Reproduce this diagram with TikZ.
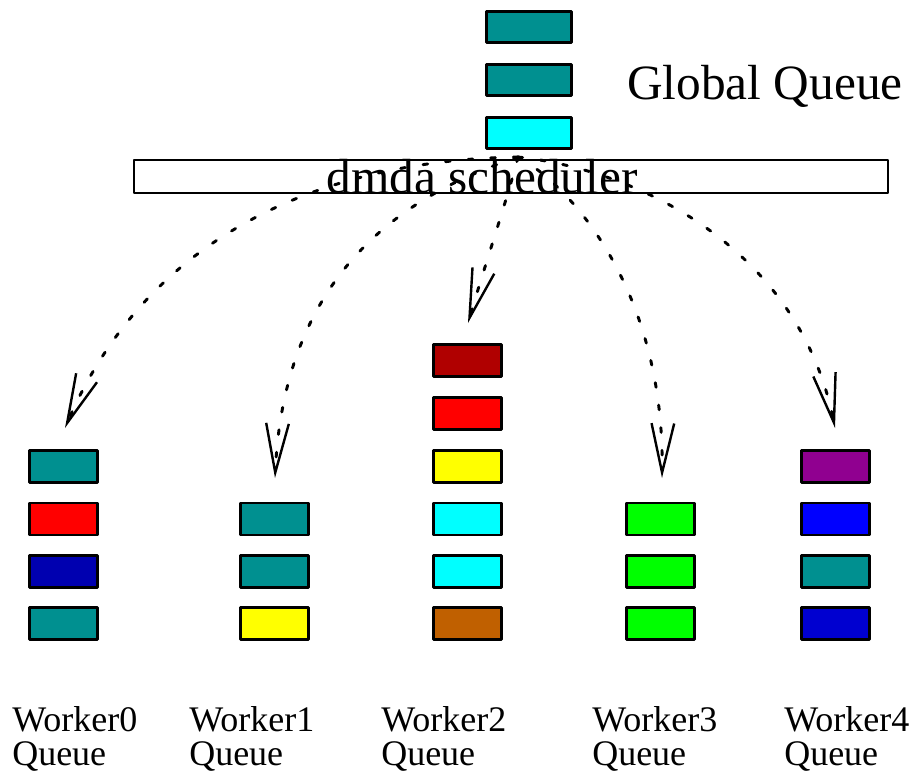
\documentclass[tikz,border=0pt]{standalone}
\usepackage{fontspec}
\setmainfont{Liberation Serif}
\usetikzlibrary{arrows.meta}
\definecolor{cyanf}{RGB}{0,144,144}
\definecolor{cyanl}{RGB}{0,255,255}
\definecolor{redd}{RGB}{176,0,0}
\definecolor{redl}{RGB}{255,0,0}
\definecolor{yel}{RGB}{255,255,0}
\definecolor{brn}{RGB}{192,96,0}
\definecolor{grn}{RGB}{0,255,0}
\definecolor{mag}{RGB}{144,0,144}
\definecolor{blu}{RGB}{0,0,255}
\definecolor{blud}{RGB}{0,0,176}
\definecolor{bluc}{RGB}{0,0,208}
\tikzset{
	qbox/.style={draw,line width=2.2pt,minimum width=51pt,minimum height=24pt,inner sep=0pt},
	gbox/.style={qbox,minimum width=63.75pt,minimum height=23.25pt},
	flow/.style={line width=2.2pt,dash pattern=on 3.5pt off 13.5pt,-{Straight Barb[length=37pt,width=17pt,line width=1.8pt,sharp]}},
	wlabel/.style={anchor=base west,align=left,inner sep=0pt,font=\fontsize{27}{25}\selectfont}
}
\begin{document}
\begin{tikzpicture}[x=0.75pt,y=-0.75pt,line join = round, line cap = round]
			\useasboundingbox (0,0) rectangle (918,771);
			\node[gbox,fill=cyanf] (G1) at (529,27) {};
			\node[gbox,fill=cyanf] (G2) at (529,80) {};
			\node[gbox,fill=cyanl] (G3) at (529,133) {};
			\node[anchor=base west,inner sep=0pt,font=\fontsize{37}{40}\selectfont] (GQ) at (627,99) {Global Queue};
			\node[draw,line width=1.6pt,minimum width=565.5pt,minimum height=24.75pt,inner sep=0pt] (S) at (511,176.5) {};
			\node[anchor=base,inner sep=0pt,font=\fontsize{37}{40}\selectfont] (ST) at (482,193) {dmda scheduler};
			\node[qbox,fill=cyanf] (A1) at (63.5,466.5) {};
			\node[qbox,fill=redl] (A2) at (63.5,519) {};
			\node[qbox,fill=blud] (A3) at (63.5,571.5) {};
			\node[qbox,fill=cyanf] (A4) at (63.5,623.5) {};
			\node[qbox,fill=cyanf] (B1) at (274.5,519) {};
			\node[qbox,fill=cyanf] (B2) at (274.5,571.5) {};
			\node[qbox,fill=yel] (B3) at (274.5,623.5) {};
			\node[qbox,fill=redd] (C1) at (467.5,360.5) {};
			\node[qbox,fill=redl] (C2) at (467.5,413.5) {};
			\node[qbox,fill=yel] (C3) at (467.5,466.5) {};
			\node[qbox,fill=cyanl] (C4) at (467.5,519) {};
			\node[qbox,fill=cyanl] (C5) at (467.5,571.5) {};
			\node[qbox,fill=brn] (C6) at (467.5,623.5) {};
			\node[qbox,fill=grn] (D1) at (660.5,519) {};
			\node[qbox,fill=grn] (D2) at (660.5,571.5) {};
			\node[qbox,fill=grn] (D3) at (660.5,623.5) {};
			\node[qbox,fill=mag] (E1) at (835.5,466.5) {};
			\node[qbox,fill=blu] (E2) at (835.5,519) {};
			\node[qbox,fill=cyanf] (E3) at (835.5,571.5) {};
			\node[qbox,fill=bluc] (E4) at (835.5,623.5) {};
			\node[wlabel] (LA) at (12,765) {Worker0\\Queue};
			\node[wlabel] (LB) at (189,765) {Worker1\\Queue};
			\node[wlabel] (LC) at (381,765) {Worker2\\Queue};
			\node[wlabel] (LD) at (592,765) {Worker3\\Queue};
			\node[wlabel] (LE) at (784,765) {Worker4\\Queue};
			\coordinate (O) at (518,157);
			\coordinate (TA) at (65,428);
			\coordinate (TB) at (275,478);
			\coordinate (TC) at (468,323);
			\coordinate (TD) at (662,478);
			\coordinate (TE) at (835,428);
			\draw[flow] (O) .. controls (330,160) and (150,230) .. (TA);
			\draw[flow] (O) .. controls (420,190) and (285,260) .. (TB);
			\draw[flow] (O) .. controls (510,190) and (485,265) .. (TC);
			\draw[flow] (O) .. controls (570,185) and (665,290) .. (TD);
			\draw[flow] (O) .. controls (640,170) and (800,250) .. (TE);
		\end{tikzpicture}
\end{document}
